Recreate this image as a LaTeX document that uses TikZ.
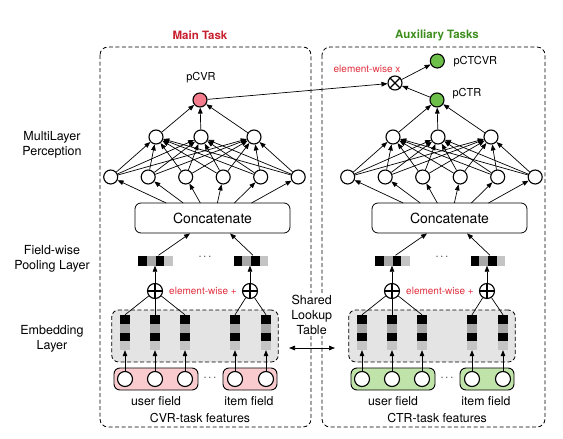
\documentclass[tikz,border=0pt]{standalone}
\usepackage{fontspec}
\setmainfont{TeX Gyre Heros}
\usetikzlibrary{arrows.meta,calc}
\definecolor{mainred}{HTML}{C8202F}
\definecolor{ewred}{HTML}{E0303F}
\definecolor{auxgreen}{HTML}{3E8E1E}
\definecolor{cvrfill}{HTML}{F47C8C}
\definecolor{ctrfill}{HTML}{6CC04A}
\definecolor{pinkfield}{HTML}{F9CBCE}
\definecolor{greenfield}{HTML}{BFE3A8}
\definecolor{embgray}{HTML}{E4E4E4}
\definecolor{cellA}{HTML}{A8A8A8}
\definecolor{cellB}{HTML}{C4C4C4}
\tikzset{
  neuron/.style={circle,draw,line width=1.1pt,minimum size=14pt,inner sep=0pt,fill=white},
  fneuron/.style={circle,draw,line width=1.1pt,minimum size=15pt,inner sep=0pt,fill=white},
  opnode/.style={circle,draw,line width=1.1pt,minimum size=15pt,inner sep=0pt,fill=white},
  arr/.style={-{Triangle[length=6pt,width=4.6pt]},line width=0.7pt},
  conn/.style={line width=0.7pt},
  panelbox/.style={draw,rounded corners=8pt,line width=0.8pt,dash pattern=on 4pt off 2.5pt},
  embbox/.style={draw,fill=embgray,rounded corners=7pt,line width=0.8pt,dash pattern=on 4pt off 2.5pt,inner sep=0pt},
  catbox/.style={draw,rounded corners=6pt,line width=0.8pt,minimum width=155pt,minimum height=30pt,inner sep=0pt,font=\fontsize{14}{16}\selectfont},
  fieldbox/.style={draw,rounded corners=6pt,line width=0.9pt,minimum height=22pt,inner sep=0pt},
  slabel/.style={align=center,font=\fontsize{12.5}{15}\selectfont},
  flabel/.style={font=\fontsize{12.3}{14}\selectfont},
  ewlabel/.style={text=ewred,font=\fontsize{10}{12}\selectfont},
  olabel/.style={font=\fontsize{11}{13}\selectfont},
  anchorbox/.style={inner sep=0pt,minimum width=#1,minimum height=10pt},
}
\newcommand\mypanel[4]{%
\begin{scope}[xshift=#2pt]
  % MLP layers
  \foreach \k in {0,...,5} \node[neuron] (#1a\k) at ({110.7+37.5*\k},177) {};
  \node[neuron] (#1b0) at (156,137) {};
  \node[neuron] (#1b1) at (201,137) {};
  \node[neuron] (#1b2) at (254,137) {};
  \node[neuron,fill=#3] (#1out) at (200,100) {};
  \foreach \k in {0,...,5} \foreach \j in {0,1,2} \draw[arr] (#1a\k) -- (#1b\j);
  \foreach \j in {0,1,2} \draw[arr] (#1b\j) -- (#1out);
  % concatenate
  \node[catbox] (#1cat) at (212.5,218) {Concatenate};
  \foreach \k in {0,...,5} {
    \coordinate (#1t\k) at ({212.5+0.455*(110.7+37.5*\k-212.5)},203);
    \draw[arr] (#1t\k) -- (#1a\k);
  }
  % pooling vectors
  \foreach \v/\cx in {0/155.5,1/251} {
    \node[anchorbox=34.4pt] (#1v\v) at (\cx,260.5) {};
    \fill[black] (\cx-17.2,255.5) rectangle ++(8.6,10);
    \fill[cellA] (\cx-8.6,255.5) rectangle ++(8.6,10);
    \fill[black] (\cx,255.5) rectangle ++(8.6,10);
    \fill[cellB] (\cx+8.6,255.5) rectangle ++(8.6,10);
  }
  \node[olabel] (#1vdots) at (205,257) {$\cdots$};
  \draw[arr] ($(#1v0.north)+(3,0)$) -- ($(#1cat.south)+(-22.5,0)$);
  \draw[arr] ($(#1v1.north)+(2,0)$) -- ($(#1cat.south)+(17.5,0)$);
  % element-wise plus
  \node[opnode] (#1p0) at (155,291) {};
  \node[opnode] (#1p1) at (250,291) {};
  \foreach \p in {0,1} {
    \draw[line width=1.1pt] (#1p\p.north) -- (#1p\p.south) (#1p\p.west) -- (#1p\p.east);
  }
  \draw[arr] (#1p0.north) -- (#1p0.north |- #1v0.south);
  \draw[arr] (#1p1.north) -- (#1p1.north |- #1v1.south);
  \node[ewlabel] (#1ew) at (203,291) {element-wise +};
  % embedding
  \node[embbox,minimum width=166.6pt,minimum height=52pt] (#1emb) at (195,336) {};
  \foreach \k/\cx in {0/125,1/155,2/185,3/235,4/266} {
    \node[inner sep=0pt,minimum width=10pt,minimum height=35pt] (#1c\k) at (\cx,332.5) {};
    \fill[black] (\cx-5,315) rectangle ++(10,8.75);
    \fill[cellA] (\cx-5,323.75) rectangle ++(10,8.75);
    \fill[black] (\cx-5,332.5) rectangle ++(10,8.75);
    \fill[cellB] (\cx-5,341.25) rectangle ++(10,8.75);
  }
  \foreach \k in {0,1,2} \draw[conn] (#1p0) -- (#1c\k.north);
  \foreach \k in {3,4} \draw[conn] (#1p1) -- (#1c\k.north);
  % fields
  \node[fieldbox,fill=#4,minimum width=84pt] (#1uf) at (156,379) {};
  \node[fieldbox,fill=#4,minimum width=54pt] (#1if) at (250,379) {};
  \foreach \k/\cx in {0/125,1/155,2/185,3/235,4/266} {
    \node[fneuron] (#1f\k) at (\cx,379) {};
    \draw[arr] (#1f\k) -- (#1c\k.south);
  }
  \node[olabel] (#1fdots) at (210,378) {$\cdots$};
  \node[flabel] (#1ufl) at (156,401) {user field};
  \node[flabel] (#1ifl) at (249,401) {item field};
\end{scope}}
\begin{document}
\begin{tikzpicture}[x=1pt,y=-1pt]
\useasboundingbox (0,0) rectangle (563,439);
% panel frames
\draw[panelbox] (100,47) rectangle (311,427);
\draw[panelbox] (322,47) rectangle (545,427);
\node[font=\bfseries\fontsize{11.5}{13}\selectfont,text=mainred] (mt) at (200,35.5) {Main Task};
\node[font=\bfseries\fontsize{11.5}{13}\selectfont,text=auxgreen] (at) at (437,35) {Auxiliary Tasks};
% side labels
\node[slabel] (mlp) at (52,144.5) {MultiLayer\\Perception};
\node[slabel] (fpl) at (52,258.5) {Field-wise\\Pooling Layer};
\node[slabel] (eml) at (52,339) {Embedding\\Layer};
% panels
\mypanel{L}{0}{cvrfill}{pinkfield}
\mypanel{R}{237}{ctrfill}{greenfield}
\node[flabel] (cvrf) at (200,418) {CVR-task features};
\node[flabel] (ctrf) at (437,418) {CTR-task features};
% outputs
\node[olabel] (pcvr) at (201,78) {pCVR};
\node[olabel,anchor=west] (pctr) at (449,94) {pCTR};
\node[neuron,fill=ctrfill] (ctcvr) at (437.3,61) {};
\node[olabel,anchor=west] (pctcvrl) at (450,62) {pCTCVR};
\node[opnode,minimum size=14pt] (mul) at (395,83) {};
\draw[line width=1.1pt] (mul.north west) -- (mul.south east) (mul.north east) -- (mul.south west);
\node[ewlabel] (mull) at (367,69) {element-wise x};
\draw[arr] (Lout) -- (mul);
\draw[arr] (Rout) -- (mul);
\draw[arr] (mul) -- (ctcvr);
% shared lookup table
\node[slabel,fill=white,inner sep=2pt] (slt) at (311.7,314.5) {Shared\\Lookup\\Table};
\coordinate (sl) at (289,348);
\coordinate (sr) at (335,348);
\draw[{Triangle[length=6pt,width=4.6pt]}-{Triangle[length=6pt,width=4.6pt]},line width=0.7pt] (sl) -- (sr);
\end{tikzpicture}
\end{document}
